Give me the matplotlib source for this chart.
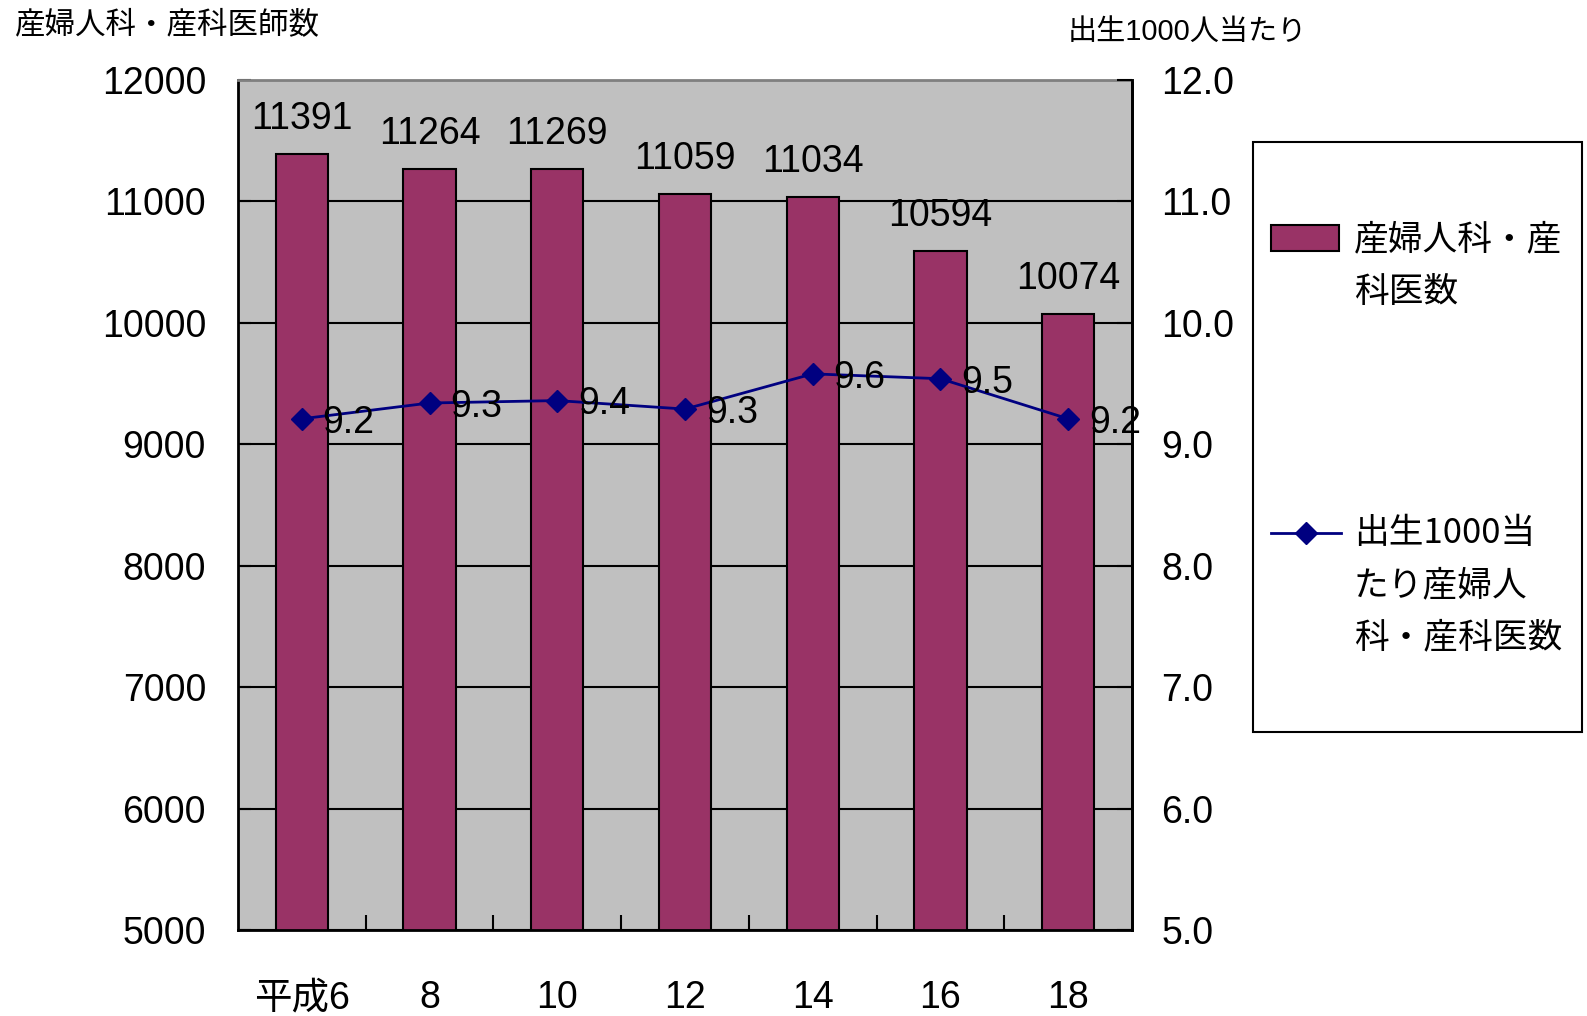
import matplotlib
matplotlib.use("Agg")
import matplotlib.pyplot as plt
from matplotlib import font_manager as fm
from matplotlib.patches import Rectangle
from matplotlib.lines import Line2D
import numpy as np

# --- data ---------------------------------------------------------------
years = ["平成6", "8", "10", "12", "14", "16", "18"]
doctors = [11391, 11264, 11269, 11059, 11034, 10594, 10074]
per_1000_births = [9.21, 9.34, 9.36, 9.29, 9.58, 9.54, 9.21]

bar_name = "産婦人科・産科医数"
line_name = "出生1000当たり産婦人科・産科医数"

# --- fonts ----------------------------------------------------------------
installed = {f.name for f in fm.fontManager.ttflist}
NARROW = "Liberation Sans Narrow" in installed
NUM = "Liberation Sans Narrow" if NARROW else "Liberation Sans"
NUM_SIZE = 30 if NARROW else 27
JP = "Noto Sans CJK JP"
MIXED = [NUM, JP]
plt.rcParams["font.family"] = MIXED

BAR_COLOR = "#993366"
LINE_COLOR = "#000080"
BG = "#C0C0C0"

fig = plt.figure(figsize=(15.87, 10.16), dpi=100)
ax = fig.add_axes([238 / 1587, 1 - 930 / 1016, (1132 - 238) / 1587, (930 - 80) / 1016])
ax.set_facecolor(BG)

x = np.arange(len(years))
ax.bar(x, doctors, width=0.41, color=BAR_COLOR, edgecolor="black", linewidth=1.5, zorder=2)
ax.set_xlim(-0.5, len(years) - 0.5)
ax.set_ylim(5000, 12000)
ax.set_yticks(np.arange(5000, 12001, 1000))
ax.set_axisbelow(True)
ax.yaxis.grid(True, color="black", linewidth=1.5)

ax.set_xticks(x)
ax.set_xticklabels(years, fontsize=NUM_SIZE, family=MIXED)
ax.set_xticks(x[:-1] + 0.5, minor=True)
ax.tick_params(axis="x", which="major", length=0, pad=36)
ax.tick_params(axis="x", which="minor", direction="in", length=11, width=1.5, color="black")
ax.tick_params(axis="y", direction="in", length=9, width=1.5, labelsize=NUM_SIZE, pad=23)
for lab in ax.get_yticklabels():
    lab.set_family(NUM)

for side in ("left", "right", "bottom"):
    ax.spines[side].set_color("black")
    ax.spines[side].set_linewidth(2)
ax.spines["top"].set_color("#808080")
ax.spines["top"].set_linewidth(2)

for xi, v in zip(x, doctors):
    ax.annotate(f"{v}", (xi, v), xytext=(0, 18), textcoords="offset points",
                ha="center", va="baseline", fontsize=NUM_SIZE, family=NUM, zorder=5)

ax2 = ax.twinx()
ax2.set_ylim(5.0, 12.0)
ax2.set_yticks(np.arange(5, 12.01, 1))
ax2.set_yticklabels([f"{t:.1f}" for t in np.arange(5, 12.01, 1)], family=NUM)
ax2.tick_params(axis="y", direction="in", length=11, width=1.5, labelsize=NUM_SIZE, pad=21)
for side in ("left", "top", "bottom"):
    ax2.spines[side].set_visible(False)
ax2.spines["right"].set_color("black")
ax2.spines["right"].set_linewidth(2)

ax2.plot(x, per_1000_births, color=LINE_COLOR, linewidth=2, marker="D",
         markersize=11, markerfacecolor=LINE_COLOR, markeredgecolor=LINE_COLOR, zorder=4)
for xi, v in zip(x, per_1000_births):
    ax2.annotate(f"{v:.1f}", (xi, v), xytext=(15, -10), textcoords="offset points",
                 ha="left", va="baseline", fontsize=NUM_SIZE, family=NUM, zorder=5,
                 annotation_clip=False)

# --- axis titles -----------------------------------------------------------
fig.text(15 / 1587, 1 - 25 / 1016, "産婦人科・産科医師数", fontsize=22, family=[JP],
         ha="left", va="center")
fig.text(1068 / 1587, 1 - 32 / 1016, "出生1000人当たり", fontsize=21, family=MIXED,
         ha="left", va="center")

# --- legend ---------------------------------------------------------------
def fx(px):
    return px / 1587


def fy(py):
    return 1 - py / 1016


fig.patches.append(Rectangle((fx(1253), fy(732)), fx(1582) - fx(1253), fy(142) - fy(732),
                             transform=fig.transFigure, facecolor="white",
                             edgecolor="black", linewidth=1.5))
fig.patches.append(Rectangle((fx(1271), fy(251)), fx(1339) - fx(1271), fy(225) - fy(251),
                             transform=fig.transFigure, facecolor=BAR_COLOR,
                             edgecolor="black", linewidth=1.5))
fig.lines.append(Line2D([fx(1271), fx(1341)], [fy(533), fy(533)], transform=fig.transFigure,
                        color=LINE_COLOR, linewidth=2))
fig.lines.append(Line2D([fx(1306)], [fy(533)], transform=fig.transFigure, marker="D",
                        markersize=11, color=LINE_COLOR, linestyle="none"))

for i, line in enumerate(["産婦人科・産", "科医数"]):
    fig.text(fx(1354), fy(240 + 53 * i), line, fontsize=25, family=[JP], ha="left", va="center")
for i, line in enumerate(["出生1000当", "たり産婦人", "科・産科医数"]):
    fig.text(fx(1354), fy(533 + 52.5 * i), line, fontsize=25, family=[JP], ha="left", va="center")

fig.savefig("out.png", dpi=100, facecolor="white")
